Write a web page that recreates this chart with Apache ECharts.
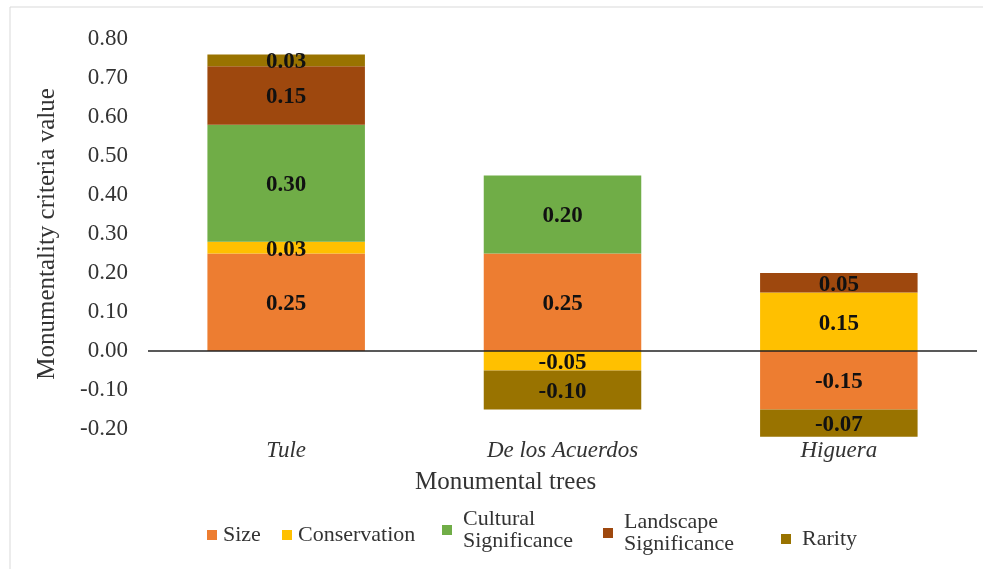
<!DOCTYPE html>
<html>
<head>
<meta charset="utf-8">
<script src="https://cdn.jsdelivr.net/npm/echarts@6/dist/echarts.min.js"></script>
<style>
  html, body { margin: 0; padding: 0; background: #fff; }
  #chart { width: 983px; height: 569px; }
</style>
</head>
<body>
<div id="chart"></div>
<script>
const categories = ['Tule', 'De los Acuerdos', 'Higuera'];
const seriesNames = ['Size', 'Conservation', 'Cultural Significance', 'Landscape Significance', 'Rarity'];
const sizeValues = [0.25, 0.25, -0.15];
const conservationValues = [0.03, -0.05, 0.15];
const culturalValues = [0.30, 0.20, null];
const landscapeValues = [0.15, null, 0.05];
const rarityValues = [0.03, -0.10, -0.07];
const colors = ['#ED7D31', '#FFC000', '#70AD47', '#9E480E', '#997300'];

const FONT = "'Liberation Serif', 'Times New Roman', serif";
const valueLists = [sizeValues, conservationValues, culturalValues, landscapeValues, rarityValues];

// one legend per item so each sits where the reference puts it
const legendSpots = [
    { left: 207, top: 524 },
    { left: 282, top: 524 },
    { left: 442, top: 508 },
    { left: 603, top: 511 },
    { left: 781, top: 528 },
];

const chart = echarts.init(document.getElementById('chart'));

chart.setOption({
    animation: false,
    textStyle: { fontFamily: FONT },
    graphic: [
        {
            type: 'rect',
            shape: { x: 10, y: 7, width: 1000, height: 600 },
            style: { fill: 'none', stroke: '#d9d9d9', lineWidth: 1 },
            silent: true,
        },
    ],
    title: {
        text: 'Monumental trees',
        left: 415,
        top: 470,
        padding: 0,
        textStyle: { fontFamily: FONT, fontSize: 25, fontWeight: 'normal', color: '#333' },
    },
    grid: { left: 148, right: 6, top: 39, bottom: 140 },
    legend: seriesNames.map((name, i) => ({
        data: [name],
        left: legendSpots[i].left,
        top: legendSpots[i].top,
        padding: 0,
        icon: 'rect',
        itemWidth: 10,
        itemHeight: 10,
        itemGap: 0,
        selectedMode: false,
        formatter: n => n.replace(' Significance', '\nSignificance'),
        textStyle: { fontFamily: FONT, fontSize: 22, color: '#333', lineHeight: 22, padding: [0, 0, 0, i >= 2 ? 6 : 1] },
    })),
    xAxis: {
        type: 'category',
        data: categories,
        axisLine: { show: false },
        axisTick: { show: false },
        axisLabel: {
            margin: 10,
            fontFamily: FONT,
            fontSize: 23,
            fontStyle: 'italic',
            color: '#333',
        },
    },
    yAxis: {
        type: 'value',
        min: -0.2,
        max: 0.8,
        interval: 0.1,
        name: 'Monumentality criteria value',
        nameLocation: 'middle',
        nameGap: 88,
        nameTextStyle: { fontFamily: FONT, fontSize: 25, color: '#333' },
        axisLine: { show: false },
        axisTick: { show: false },
        splitLine: { show: false },
        axisLabel: {
            margin: 20,
            fontFamily: FONT,
            fontSize: 23,
            color: '#333',
            formatter: v => v.toFixed(2),
        },
    },
    series: seriesNames.map((name, i) => ({
        name,
        type: 'bar',
        stack: 'total',
        barWidth: '57%',
        clip: false,
        data: valueLists[i],
        itemStyle: { color: colors[i] },
        label: {
            show: true,
            position: 'inside',
            offset: [0, 2],
            fontFamily: FONT,
            fontSize: 23,
            fontWeight: 'bold',
            color: '#111',
            formatter: p => p.value.toFixed(2),
        },
        // zero line drawn over the bars, labels stay at the bottom
        markLine: i === 0 ? {
            silent: true,
            symbol: ['none', 'none'],
            label: { show: false },
            lineStyle: { color: '#222', width: 1.5, type: 'solid' },
            data: [{ yAxis: 0 }],
        } : undefined,
    })),
});
</script>
</body>
</html>
